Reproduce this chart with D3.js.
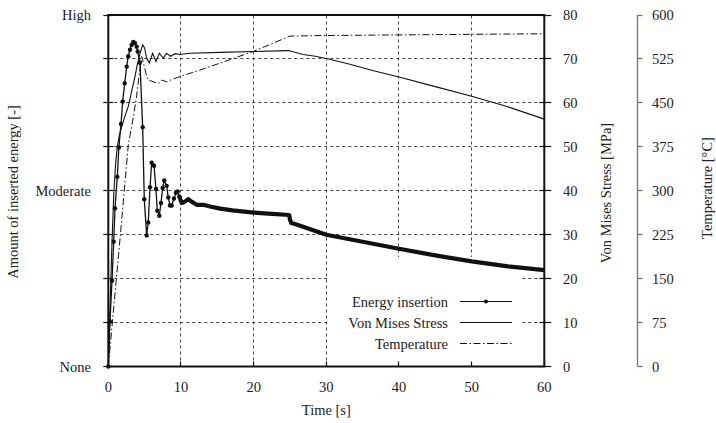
<!DOCTYPE html>
<html>
<head>
<meta charset="utf-8">
<script src="https://cdn.jsdelivr.net/npm/d3@7/dist/d3.min.js"></script>
<style>
  html, body { margin: 0; padding: 0; background: #fff; }
  svg { display: block; }
  text { font-family: "Liberation Serif", "Times New Roman", serif; font-size: 14.5px; fill: #222; }
</style>
</head>
<body>
<svg id="chart" width="716" height="423"></svg>
<script>
// ---------------- data ----------------
// Energy insertion (normalised: 0 = None, 0.5 = Moderate, 1 = High)
const energyTime = [0, 0.23, 0.51, 0.74, 0.92, 1.24, 1.45, 1.75, 1.98, 2.26, 2.53, 2.75, 2.98, 3.22, 3.44, 3.67, 3.91, 4.04, 4.36, 4.73, 4.95, 5.28, 5.5, 5.74, 5.97, 6.29, 6.56, 6.74, 7.02, 7.25, 7.48, 7.7, 8.03, 8.25, 8.49, 8.72, 9.04, 9.31, 9.55, 9.77, 10.1, 10.55, 11.0, 11.47, 12.16, 13.07, 14.0, 15.4, 17.1, 20, 22, 24.9, 25.0, 25.2, 26, 27.7, 30, 32.5, 35, 37.5, 40, 45, 50, 55, 60];
const energyValue = [0, 0.128, 0.244, 0.355, 0.45, 0.54, 0.623, 0.69, 0.754, 0.806, 0.853, 0.883, 0.901, 0.915, 0.923, 0.92, 0.91, 0.896, 0.864, 0.681, 0.476, 0.373, 0.41, 0.51, 0.58, 0.571, 0.505, 0.443, 0.429, 0.465, 0.508, 0.529, 0.514, 0.481, 0.458, 0.458, 0.478, 0.494, 0.498, 0.484, 0.465, 0.469, 0.476, 0.469, 0.46, 0.46, 0.455, 0.449, 0.444, 0.438, 0.435, 0.431, 0.418, 0.408, 0.403, 0.391, 0.375, 0.365, 0.355, 0.345, 0.335, 0.316, 0.299, 0.285, 0.274];

// Von Mises stress [MPa]
const stressTime = [0, 0.25, 0.5, 0.75, 1.0, 1.2, 1.5, 1.84, 2.3, 2.75, 3.2, 3.67, 4.0, 4.36, 4.73, 5.0, 5.27, 5.64, 6.1, 6.56, 7.02, 7.56, 8.0, 8.58, 9.17, 9.86, 11.2, 15.4, 20, 24.8, 26.8, 28.5, 30.3, 33, 36.5, 40, 45, 50, 55, 60];
const stressValue = [0, 14, 28, 39, 46, 49.5, 52.5, 54.6, 57, 59.2, 62.5, 66, 68.8, 71.2, 73.2, 72.5, 70.2, 69.1, 71.3, 69.4, 71.3, 70.2, 71.3, 70.6, 71.2, 71.0, 71.3, 71.5, 71.7, 71.9, 71.0, 70.6, 70.0, 68.9, 67.3, 65.9, 63.7, 61.5, 59.1, 56.3];

// Temperature [°C]
const tempTime = [0, 1.6, 2.75, 3.44, 3.9, 4.27, 4.6, 5.0, 5.28, 5.5, 6.2, 6.88, 7.34, 8.0, 8.6, 9.86, 12.6, 15.4, 20, 25, 30, 40, 50, 60];
const tempValue = [0, 216, 378, 425, 462, 500, 529, 510, 495, 489, 486, 483, 489, 486, 489, 495, 506, 518, 538, 564, 565, 566, 567, 568];

// ticks
const timeTicks = [0, 10, 20, 30, 40, 50, 60];
const stressTicks = [0, 10, 20, 30, 40, 50, 60, 70, 80];
const tempTicks = [0, 75, 150, 225, 300, 375, 450, 525, 600];
const energyTickValues = [0, 0.125, 0.25, 0.375, 0.5, 0.625, 0.75, 0.875, 1];
const energyLabelValues = [0, 0.5, 1];
const energyLabels = ["None", "Moderate", "High"];

const legendNames = ["Energy insertion", "Von Mises Stress", "Temperature"];

// ---------------- drawing ----------------
const svg = d3.select("#chart");
const L = 108.3, R = 544.3, T = 15, B = 366.5;

const x = d3.scaleLinear().domain([0, 60]).range([L, R]);
const yE = d3.scaleLinear().domain([0, 1]).range([B, T]);
const yS = d3.scaleLinear().domain([0, 80]).range([B, T]);
const yT = d3.scaleLinear().domain([0, 600]).range([B, T]);
const crisp = v => Math.round(v - 0.5) + 0.5;

const energy = energyTime.map((t, i) => ({t, v: energyValue[i]}));
const stress = stressTime.map((t, i) => ({t, v: stressValue[i]}));
const temp = tempTime.map((t, i) => ({t, v: tempValue[i]}));

const gridColor = "#444";

// grid
const grid = svg.append("g");
grid.selectAll("line.h").data(stressTicks.filter(d => d > 0 && d < 80)).join("line")
  .attr("x1", L).attr("x2", R).attr("y1", d => crisp(yS(d))).attr("y2", d => crisp(yS(d)))
  .attr("stroke", gridColor).attr("stroke-width", 1).attr("stroke-dasharray", "3,3");
grid.selectAll("line.v").data(timeTicks.filter(d => d > 0 && d < 60)).join("line")
  .attr("x1", d => crisp(x(d))).attr("x2", d => crisp(x(d))).attr("y1", B).attr("y2", T)
  .attr("stroke", gridColor).attr("stroke-width", 1).attr("stroke-dasharray", "3,3");

// legend background (hides grid)
svg.append("rect").attr("x", 330).attr("y", 257).attr("width", 191).attr("height", 104).attr("fill", "#fff");

// lines
const lineE = d3.line().x(d => x(d.t)).y(d => yE(d.v));
const lineS = d3.line().x(d => x(d.t)).y(d => yS(d.v));
const lineT = d3.line().x(d => x(d.t)).y(d => yT(d.v));

svg.append("path").datum(temp).attr("d", lineT).attr("fill", "none")
  .attr("stroke", "#111").attr("stroke-width", 1).attr("stroke-dasharray", "7,2.5,1.5,2.5");
svg.append("path").datum(stress).attr("d", lineS).attr("fill", "none")
  .attr("stroke", "#111").attr("stroke-width", 1.1);
svg.append("path").datum(energy).attr("d", lineE).attr("fill", "none")
  .attr("stroke", "#111").attr("stroke-width", 1.3);
svg.append("path").datum(energy.filter(d => d.t >= 9.7)).attr("d", lineE).attr("fill", "none")
  .attr("stroke", "#111").attr("stroke-width", 4.2).attr("stroke-linejoin", "round");
svg.append("g").selectAll("circle").data(energy.filter(d => d.t < 10)).join("circle")
  .attr("cx", d => x(d.t)).attr("cy", d => yE(d.v)).attr("r", 2.2).attr("fill", "#111");

// frame
const frame = svg.append("g").attr("stroke", "#111").attr("stroke-width", 2).attr("fill", "none");
frame.append("line").attr("x1", L).attr("x2", L).attr("y1", T).attr("y2", B);
frame.append("line").attr("x1", R).attr("x2", R).attr("y1", T).attr("y2", B);
frame.append("line").attr("x1", L - 1).attr("x2", R + 1).attr("y1", B).attr("y2", B);
frame.append("line").attr("x1", L - 1).attr("x2", R + 1).attr("y1", T).attr("y2", T);

// left axis ticks + labels
svg.append("g").selectAll("line").data(energyTickValues).join("line")
  .attr("x1", L - 5).attr("x2", L + 5).attr("y1", d => crisp(yE(d))).attr("y2", d => crisp(yE(d)))
  .attr("stroke", "#111").attr("stroke-width", 1.2);
svg.append("g").selectAll("text").data(energyLabelValues).join("text")
  .attr("x", 91).attr("y", d => yE(d) + 5).attr("text-anchor", "end")
  .text((d, i) => energyLabels[i]);

// right (stress) axis
svg.append("g").selectAll("line").data(stressTicks).join("line")
  .attr("x1", R - 5).attr("x2", R + 7).attr("y1", d => crisp(yS(d))).attr("y2", d => crisp(yS(d)))
  .attr("stroke", "#111").attr("stroke-width", 1.2);
svg.append("g").selectAll("text").data(stressTicks).join("text")
  .attr("x", 563).attr("y", d => yS(d) + 5).attr("text-anchor", "start").text(d => d);

// bottom axis
svg.append("g").selectAll("line").data(timeTicks).join("line")
  .attr("x1", d => crisp(x(d))).attr("x2", d => crisp(x(d))).attr("y1", B - 5).attr("y2", B)
  .attr("stroke", "#111").attr("stroke-width", 1.2);
svg.append("g").selectAll("text").data(timeTicks).join("text")
  .attr("x", d => x(d)).attr("y", 392).attr("text-anchor", "middle").text(d => d);

// temperature axis
const TX = 637.5;
const tAxis = svg.append("g");
tAxis.append("line").attr("x1", TX).attr("x2", TX).attr("y1", T).attr("y2", B)
  .attr("stroke", "#777").attr("stroke-width", 1.3);
tAxis.selectAll("line.tk").data(tempTicks).join("line")
  .attr("x1", TX).attr("x2", TX + 5).attr("y1", d => crisp(yT(d))).attr("y2", d => crisp(yT(d)))
  .attr("stroke", "#777").attr("stroke-width", 1.3);
tAxis.selectAll("text").data(tempTicks).join("text")
  .attr("x", 652).attr("y", d => yT(d) + 5).attr("text-anchor", "start").text(d => d);

// axis titles
svg.append("text").attr("x", (L + R) / 2).attr("y", 415).attr("text-anchor", "middle").text("Time [s]");
svg.append("text").attr("transform", "translate(18,192) rotate(-90)").attr("text-anchor", "middle")
  .text("Amount of inserted energy [-]");
svg.append("text").attr("transform", "translate(611,193) rotate(-90)").attr("text-anchor", "middle")
  .text("Von Mises Stress [MPa]");
svg.append("text").attr("transform", "translate(712,188) rotate(-90)").attr("text-anchor", "middle")
  .text("Temperature [°C]");

// legend
const legY = [301.5, 322.5, 343.5];
const lg = svg.append("g");
lg.selectAll("text").data(legendNames).join("text")
  .attr("x", 448).attr("y", (d, i) => legY[i] + 5).attr("text-anchor", "end").text(d => d);
const styles = [
  {w: 1, dash: null},
  {w: 1, dash: null},
  {w: 1, dash: "7,2.5,1.5,2.5"}
];
lg.selectAll("line").data(styles).join("line")
  .attr("x1", 460).attr("x2", 512).attr("y1", (d, i) => legY[i]).attr("y2", (d, i) => legY[i])
  .attr("stroke", "#111").attr("stroke-width", d => d.w)
  .attr("stroke-dasharray", d => d.dash);
lg.append("circle").attr("cx", 486).attr("cy", legY[0]).attr("r", 2).attr("fill", "#111");
</script>
</body>
</html>
